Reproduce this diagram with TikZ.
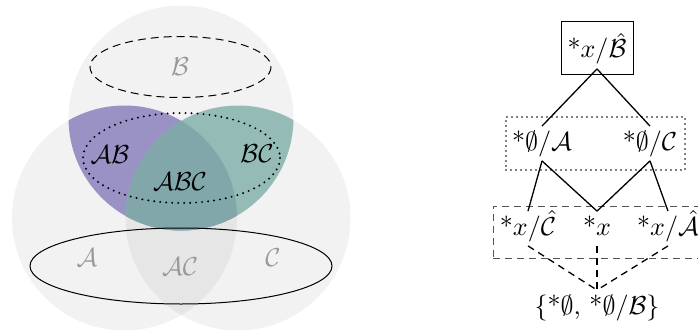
\documentclass[tikz,border=0pt]{standalone}
\definecolor{venngray}{HTML}{F2F2F2}
\definecolor{acgray}{HTML}{E6E6E6}
\definecolor{abpurple}{HTML}{9A91C5}
\definecolor{bcteal}{HTML}{95BBB6}
\definecolor{abcteal}{HTML}{81A7AB}
\definecolor{lblgray}{HTML}{999999}
\definecolor{boxgray}{HTML}{555555}
\begin{document}
\begin{tikzpicture}[x=1pt,y=-1pt,
  lbl/.style={scale=2.6, inner sep=0pt},
  glbl/.style={lbl, text=lblgray},
  tnode/.style={scale=2.6, anchor=base, text height=7.5pt, text depth=2.5pt, inner sep=1.5pt},
  frame/.style={minimum width=#1, inner sep=0pt, minimum height=53pt},
  edge/.style={line width=1.3pt},
  dedge/.style={line width=1.3pt, dash pattern=on 7pt off 5pt}]
\useasboundingbox (0,0) rectangle (698,329);
% Venn diagram
\coordinate (cA) at (124.5,218);
\coordinate (cB) at (181,118);
\coordinate (cC) at (238,218);
\fill[venngray] (cA) circle[radius=112.5];
\fill[venngray] (cB) circle[radius=112.5];
\fill[venngray] (cC) circle[radius=112.5];
\begin{scope}
  \clip (cA) circle[radius=112.5];
  \fill[acgray] (cC) circle[radius=112.5];
\end{scope}
\begin{scope}
  \clip (cA) circle[radius=112.5];
  \fill[abpurple] (cB) circle[radius=112.5];
\end{scope}
\begin{scope}
  \clip (cC) circle[radius=112.5];
  \fill[bcteal] (cB) circle[radius=112.5];
\end{scope}
\begin{scope}
  \clip (cA) circle[radius=112.5];
  \clip (cC) circle[radius=112.5];
  \fill[abcteal] (cB) circle[radius=112.5];
\end{scope}
\draw[line width=1pt, dash pattern=on 8pt off 5pt] (180.5,67) ellipse[x radius=90.5, y radius=30.5];
\draw[line width=2.2pt, dash pattern=on 0pt off 6pt, line cap=round] (181.5,158) ellipse[x radius=98.5, y radius=45];
\draw[line width=1pt] (181,266) ellipse[x radius=151, y radius=38];
\node[glbl] (lB) at (180,67) {$\mathcal{B}$};
\node[lbl] (lAB) at (110,155) {$\mathcal{AB}$};
\node[lbl] (lBC) at (257,154) {$\mathcal{BC}$};
\node[lbl] (lABC) at (180,182) {$\mathcal{ABC}$};
\node[glbl] (lA) at (87,258) {$\mathcal{A}$};
\node[glbl] (lAC) at (180,267) {$\mathcal{AC}$};
\node[glbl] (lC) at (273,258) {$\mathcal{C}$};
% lattice
\node[draw, line width=0.9pt, frame=72pt] (topbox) at (597,47.5) {};
\node[draw, line width=1.8pt, dash pattern=on 0pt off 5pt, line cap=round, frame=179pt] (midbox) at (595.5,143.5) {};
\node[draw=boxgray, line width=1pt, dash pattern=on 7pt off 5pt, frame=210pt, minimum height=52pt] (lowbox) at (598,232) {};
\node[tnode] (t) at (597,58) {*$x/\hat{\mathcal{B}}$};
\node[tnode] (a) at (542,150) {*$\emptyset/\mathcal{A}$};
\node[tnode] (c) at (650,150) {*$\emptyset/\mathcal{C}$};
\node[tnode] (xc) at (528,235) {*$x/\hat{\mathcal{C}}$};
\node[tnode] (x) at (597,235) {*$x$};
\node[tnode] (xa) at (668,235) {*$x/\hat{\mathcal{A}}$};
\node[tnode] (bot) at (597,314) {$\{$*$\emptyset$, *$\emptyset/\mathcal{B}\}$};
\draw[edge] (t.south) -- (a.north);
\draw[edge] (t.south) -- (c.north);
\draw[edge] (a.south) -- (xc.north);
\draw[edge] (a.south) -- (x.north);
\draw[edge] (c.south) -- (x.north);
\draw[edge] (c.south) -- (xa.north);
\draw[dedge] (xc.south) -- (bot.north);
\draw[dedge] (x.south) -- (bot.north);
\draw[dedge] (xa.south) -- (bot.north);
\end{tikzpicture}
\end{document}
